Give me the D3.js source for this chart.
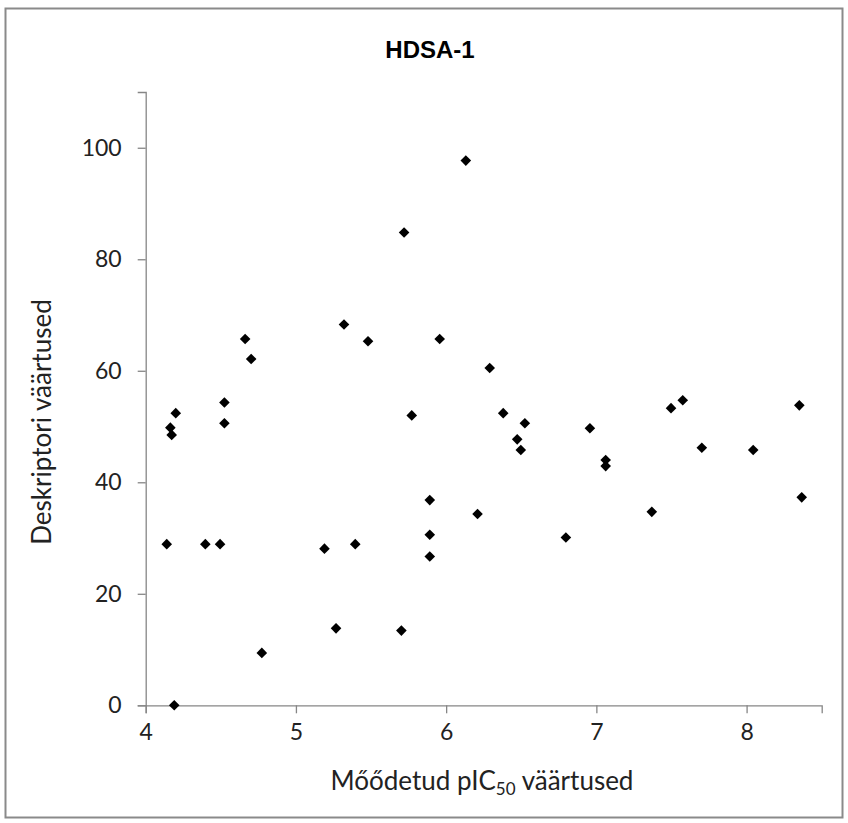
<!DOCTYPE html>
<html>
<head>
<meta charset="utf-8">
<script src="https://cdn.jsdelivr.net/npm/d3@7"></script>
<style>
  html, body { margin: 0; padding: 0; background: #fff; }
  svg { display: block; }
</style>
</head>
<body>
<svg id="chart" width="848" height="823"></svg>
<script>
// Data
const xValues = [4.662, 4.702, 4.524, 4.200, 4.164, 4.173, 4.524, 4.140, 4.397, 4.495, 4.773, 4.190,
  6.131, 5.720, 5.320, 5.480, 5.957, 6.290, 5.771,
  5.891, 6.209, 5.891, 5.190, 5.395, 5.891, 5.267, 5.702,
  6.380, 6.524, 6.473, 6.497, 6.957, 7.062, 7.062, 7.369, 6.797,
  7.497, 7.575, 7.702, 8.044, 8.351, 8.367];
const yValues = [65.7, 62.1, 54.3, 52.4, 49.8, 48.5, 50.6, 28.9, 28.9, 28.9, 9.4, 0.0,
  97.7, 84.8, 68.3, 65.3, 65.7, 60.5, 52.0,
  36.8, 34.3, 30.6, 28.1, 28.9, 26.7, 13.8, 13.4,
  52.4, 50.6, 47.7, 45.8, 49.7, 44.0, 42.9, 34.7, 30.1,
  53.3, 54.7, 46.2, 45.8, 53.8, 37.3];
const xTicks = [4, 5, 6, 7, 8];
const yTicks = [0, 20, 40, 60, 80, 100];
const xDomain = [4, 8.5];
const yDomain = [0, 110];
const titleText = "HDSA-1";
const yTitle = "Deskriptori väärtused";

const svg = d3.select("#chart");
const plot = { left: 145.7, right: 821.7, top: 92, bottom: 705.3 };
const axisColor = "#868686";
const labelFont = "Lato, 'Open Sans', sans-serif";

// chart border
svg.append("rect")
  .attr("x", 5.5).attr("y", 8.5)
  .attr("width", 837).attr("height", 809)
  .attr("fill", "#fff")
  .attr("stroke", "#8a8a8a")
  .attr("stroke-width", 2);

const x = d3.scaleLinear().domain(xDomain).range([plot.left, plot.right]);
const y = d3.scaleLinear().domain(yDomain).range([plot.bottom, plot.top]);

// X axis
const xAxis = svg.append("g")
  .attr("transform", `translate(0,${plot.bottom})`)
  .call(d3.axisBottom(x).tickValues(xTicks).tickFormat(d3.format("d")).tickSizeOuter(0).tickSize(8).tickPadding(10));
xAxis.select(".domain").attr("stroke", axisColor).attr("stroke-width", 1.3);
xAxis.selectAll(".tick line").attr("stroke", axisColor).attr("stroke-width", 1.3);
xAxis.selectAll(".tick text")
  .attr("font-family", labelFont).attr("font-size", 23).attr("fill", "#222");

// Y axis
const yAxis = svg.append("g")
  .attr("transform", `translate(${plot.left},0)`)
  .call(d3.axisLeft(y).tickValues(yTicks).tickFormat(d3.format("d")).tickSizeOuter(0).tickSize(8).tickPadding(16));
yAxis.select(".domain").attr("stroke", axisColor).attr("stroke-width", 1.3);
yAxis.selectAll(".tick line").attr("stroke", axisColor).attr("stroke-width", 1.3);
yAxis.selectAll(".tick text")
  .attr("font-family", labelFont).attr("font-size", 23).attr("fill", "#222");

// Points (diamonds)
const data = xValues.map((v, i) => ({ x: v, y: yValues[i] }));
const r = 5.3;
svg.append("g").selectAll("path")
  .data(data)
  .join("path")
  .attr("transform", d => `translate(${x(d.x)},${y(d.y)})`)
  .attr("d", `M0,${-r}L${r},0L0,${r}L${-r},0Z`)
  .attr("fill", "#000");

// Title
svg.append("text")
  .attr("x", 430).attr("y", 58)
  .attr("text-anchor", "middle")
  .attr("font-family", "'Liberation Sans', Arial, sans-serif")
  .attr("font-weight", "bold")
  .attr("font-size", 24)
  .attr("fill", "#000")
  .text(titleText);

// X title with subscript
const xt = svg.append("text")
  .attr("x", 482).attr("y", 790)
  .attr("text-anchor", "middle")
  .attr("font-family", labelFont)
  .attr("font-size", 26)
  .attr("fill", "#222");
xt.append("tspan").text("Mőődetud pIC");
xt.append("tspan").attr("font-size", 17).attr("dy", 5).text("50");
xt.append("tspan").attr("dy", -5).text(" väärtused");

// Y title
svg.append("text")
  .attr("transform", `translate(51,422) rotate(-90)`)
  .attr("text-anchor", "middle")
  .attr("font-family", labelFont)
  .attr("font-size", 26)
  .attr("fill", "#222")
  .text(yTitle);
</script>
</body>
</html>
